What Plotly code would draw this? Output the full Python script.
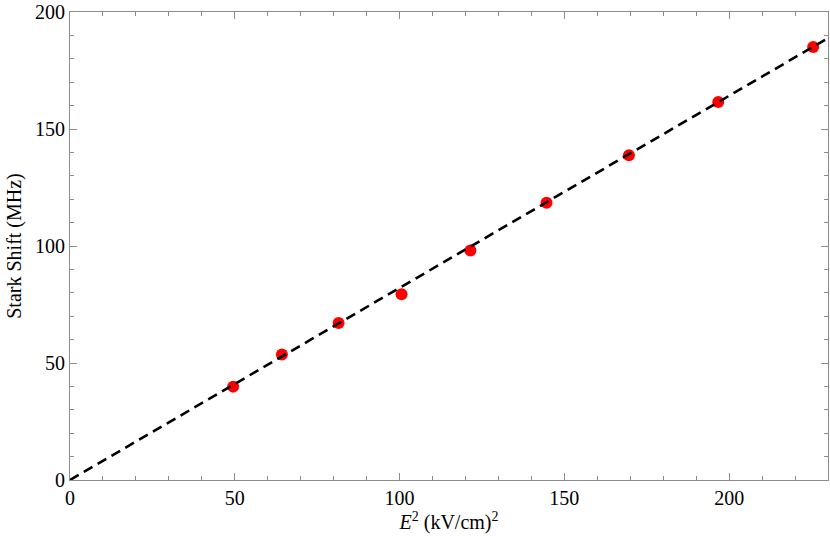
import plotly.graph_objects as go

# Data
e_squared = [49.5, 64.3, 81.5, 100.6, 121.5, 144.6, 169.6, 196.7, 225.5]
stark_shift = [39.9, 53.6, 67.1, 79.4, 98.1, 118.5, 138.8, 161.5, 185.0]
fit_slope = 0.821
fit_x = [0, 230]
fit_y = [fit_slope * v for v in fit_x]

x_ticks = [0, 50, 100, 150, 200]
y_ticks = [0, 50, 100, 150, 200]

fig = go.Figure()
fig.add_trace(go.Scatter(x=e_squared, y=stark_shift, mode="markers",
                         marker=dict(color="#ff0000", size=12, line=dict(width=0)),
                         showlegend=False, cliponaxis=False))
fig.add_trace(go.Scatter(x=fit_x, y=fit_y, mode="lines",
                         line=dict(color="black", width=2.6, dash="10px,6px"),
                         showlegend=False))

font = dict(family="Liberation Serif, Times New Roman, serif", size=20, color="black")
axis_common = dict(showline=True, linecolor="#8c8c8c", linewidth=1, mirror="allticks",
                   ticks="inside", ticklen=7, tickcolor="#8c8c8c", tickwidth=1,
                   showgrid=False, zeroline=False, tickfont=font,
                   minor=dict(ticks="inside", ticklen=4, tickcolor="#8c8c8c", dtick=10, showgrid=False))

fig.update_layout(
    width=830, height=544,
    margin=dict(l=70, r=2, t=12, b=64, autoexpand=False),
    plot_bgcolor="white", paper_bgcolor="white",
    font=font,
    xaxis=dict(range=[0, 230], tickvals=x_ticks,
               title=dict(text="<i>E</i><sup>2</sup> (kV/cm)<sup>2</sup>", font=font, standoff=6),
               **axis_common),
    yaxis=dict(range=[0, 200], tickvals=y_ticks,
               title=dict(text="Stark Shift (MHz)", font=font, standoff=8),
               **axis_common),
)

fig.write_html("out.html", post_script="document.body.style.margin='0';",
               config={"displayModeBar": False})
